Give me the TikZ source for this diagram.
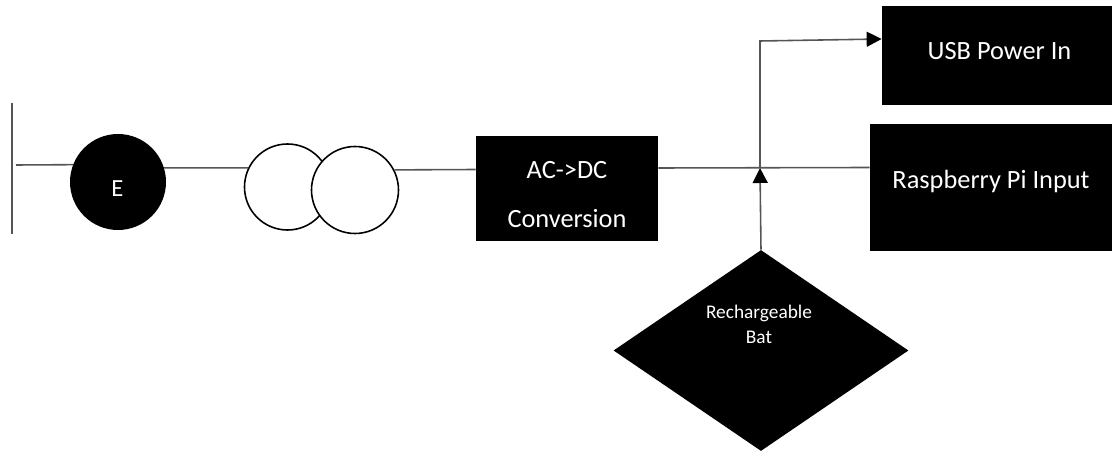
\documentclass[tikz,border=0pt]{standalone}
\usepackage{fontspec}
\setmainfont{Carlito}
\usetikzlibrary{positioning,shapes.geometric,arrows.meta}
\definecolor{wire}{HTML}{555555}
\tikzset{
    blackbox/.style={rectangle, fill=black, text=white, inner sep=0pt, align=center},
    boxtext/.style={text=white, font=\fontsize{15}{18}\selectfont, align=center},
    winding/.style={circle, draw=black, fill=white, line width=0.9pt, inner sep=0pt, minimum size=1.72cm},
    wireline/.style={draw=wire, line width=0.9pt},
    wirearrow/.style={wireline, -{Triangle[length=0.3cm,width=0.3cm,black]}}
}
\begin{document}
\begin{tikzpicture}
    \useasboundingbox (0,0) rectangle (22.24,9.06);

    % Bus bar
    \coordinate (busTop) at (0.24,6.99);
    \coordinate (busBot) at (0.24,4.38);
    \coordinate (busTap) at (0.32,5.76);
    \draw[wireline] (busTop) -- (busBot);

    % Source and transformer
    \node[circle, fill=black, inner sep=0pt, minimum size=1.92cm] (gen) at (2.36,5.42)
        {};
    \node[boxtext, font=\fontsize{14}{17}\selectfont] (genText) at (2.35,5.28) {E};
    \node[winding] (tfLeft) at (5.75,5.32) {};
    \node[winding, minimum size=1.74cm] (tfRight) at (7.10,5.26) {};

    % Boxes
    \node[blackbox, minimum width=3.64cm, minimum height=2.10cm,
        label={[boxtext, yshift=-0.12cm]center:AC->DC\\[0.35cm]Conversion}] (conv) at (11.34,5.29) {};
    \node[blackbox, minimum width=4.60cm, minimum height=1.98cm,
        label={[boxtext, xshift=0.05cm, yshift=0.09cm]center:USB Power In}] (usb) at (19.94,7.95) {};
    \node[blackbox, minimum width=4.84cm, minimum height=2.54cm,
        label={[boxtext, yshift=0.14cm]center:Raspberry Pi Input}] (rpi) at (19.82,5.30) {};
    \node[diamond, fill=black, inner sep=0pt, minimum width=5.90cm, minimum height=4.02cm,
        label={[boxtext, font=\fontsize{11}{13}\selectfont, xshift=-0.04cm, yshift=0.53cm]center:Rechargeable\\[0.04cm]Bat}] (bat) at (15.22,2.05) {};

    % Connections
    \coordinate (junction) at (15.20,5.70);
    \coordinate (corner) at (15.20,8.24);
    \draw[wireline] (busTap) -- (gen.159);
    \draw[wireline] (gen.17) -- (tfLeft.154);
    \draw[wireline] (tfRight.27) -- ([yshift=0.38cm]conv.west);
    \draw[wireline] ([yshift=0.41cm]conv.east) -- ([yshift=0.41cm]rpi.west);
    \draw[wirearrow] (bat.north) -- (junction);
    \draw[wirearrow] (junction) -- (corner) -- ([yshift=0.33cm]usb.west);
\end{tikzpicture}
\end{document}
